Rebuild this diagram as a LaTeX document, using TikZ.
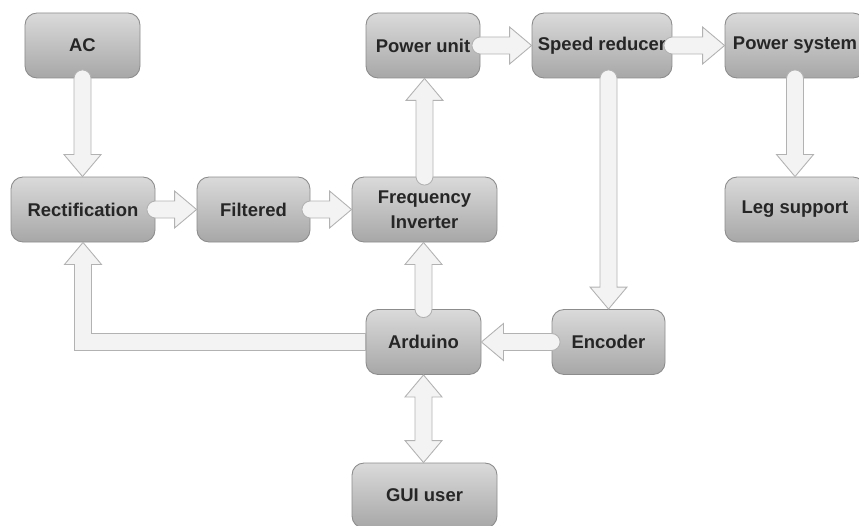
\documentclass[tikz,border=0pt]{standalone}
\usepackage{fontspec}
\setmainfont{Liberation Sans}
\usetikzlibrary{calc}

\definecolor{boxtop}{HTML}{DADADA}
\definecolor{boxmid}{HTML}{BCBCBC}
\definecolor{boxbottom}{HTML}{A7A7A7}
\definecolor{boxline}{HTML}{8C8C8C}
\definecolor{boxtext}{HTML}{262626}
\definecolor{arrowfill}{HTML}{F3F3F3}
\definecolor{arrowline}{HTML}{B2B2B2}

\tikzset{
  blockbox/.style={draw=boxline, line width=0.5pt, rounded corners=0.24cm,
    minimum width=2.3cm, minimum height=1.3cm, top color=boxtop,
    middle color=boxmid, bottom color=boxbottom, text=boxtext, align=center,
    font=\fontsize{10.5}{14}\selectfont\bfseries},
  flowarrow/.style={draw=arrowline, fill=arrowfill, line width=0.5pt, line join=miter},
}

% block arrow from #1 to #2, rounded tail
\newcommand{\blockarrow}[2]{%
  \coordinate (hb) at ($(#2)!0.44cm!(#1)$);
  \draw[flowarrow] let \p1=($(#2)-(#1)$), \n1={atan2(\y1,\x1)} in
    (#2) -- ($(hb)!0.37cm!90:(#2)$) -- ($(hb)!0.17cm!90:(#2)$)
    -- ($(#1)!0.17cm!90:(#2)$)
    arc[start angle=\n1+90, end angle=\n1+270, radius=0.17cm]
    -- ($(hb)!0.17cm!-90:(#2)$) -- ($(hb)!0.37cm!-90:(#2)$) -- cycle;%
}
% block arrow with heads on both ends
\newcommand{\twowayarrow}[2]{%
  \coordinate (hb) at ($(#2)!0.44cm!(#1)$);
  \coordinate (ht) at ($(#1)!0.44cm!(#2)$);
  \draw[flowarrow]
    (#2) -- ($(hb)!0.37cm!90:(#2)$) -- ($(hb)!0.17cm!90:(#2)$)
    -- ($(ht)!0.17cm!-90:(#1)$) -- ($(ht)!0.37cm!-90:(#1)$) -- (#1)
    -- ($(ht)!0.37cm!90:(#1)$) -- ($(ht)!0.17cm!90:(#1)$)
    -- ($(hb)!0.17cm!-90:(#2)$) -- ($(hb)!0.37cm!-90:(#2)$) -- cycle;%
}

\begin{document}
\begin{tikzpicture}
  \useasboundingbox (0,0) rectangle (17.18,10.5);
  \clip (0,0) rectangle (17.18,10.5);

  % top row
  \node[blockbox] (ac) at (1.65,9.59) {AC};
  \node[blockbox, minimum width=2.28cm] (powerunit) at (8.46,9.59) {Power unit};
  \node[blockbox, minimum width=2.6cm] (reducer) at (12.04,9.59) {Speed reducer};
  \node[blockbox, minimum width=2.8cm] (powersys) at (15.9,9.59) {Power system};

  % middle row
  \node[blockbox, minimum width=2.88cm] (rectif) at (1.66,6.31) {Rectification};
  \node[blockbox, minimum width=2.26cm] (filtered) at (5.07,6.31) {Filtered};
  \node[blockbox, minimum width=2.9cm] (inverter) at (8.49,6.31) {Frequency\\Inverter};
  \node[blockbox, minimum width=2.8cm] (leg) at (15.9,6.31) {Leg support};

  % control
  \node[blockbox] (arduino) at (8.47,3.66) {Arduino};
  \node[blockbox, minimum width=2.26cm] (encoder) at (12.17,3.66) {Encoder};
  \node[blockbox, minimum width=2.9cm] (gui) at (8.49,0.59) {GUI user};

  % power path
  \blockarrow{ac.south}{ac.south |- rectif.north}
  \blockarrow{rectif.east}{filtered.west}
  \blockarrow{filtered.east}{inverter.west}
  \blockarrow{inverter.north}{inverter.north |- powerunit.south}
  \blockarrow{powerunit.east}{reducer.west}
  \blockarrow{reducer.east}{powersys.west}
  \blockarrow{powersys.south}{powersys.south |- leg.north}

  % feedback
  \blockarrow{encoder.north |- reducer.south}{encoder.north}
  \blockarrow{encoder.west}{arduino.east}
  \blockarrow{arduino.north}{arduino.north |- inverter.south}
  \twowayarrow{arduino.south}{arduino.south |- gui.north}

  % arduino back to rectification
  \coordinate (elbow) at (rectif.south |- arduino.west);
  \coordinate (rhead) at ($(rectif.south)+(0,-0.44)$);
  \draw[flowarrow] ($(arduino.west)+(0,0.17)$) -- ($(elbow)+(0.17,0.17)$)
    -- ($(rhead)+(0.17,0)$) -- ($(rhead)+(0.37,0)$) -- (rectif.south)
    -- ($(rhead)+(-0.37,0)$) -- ($(rhead)+(-0.17,0)$)
    -- ($(elbow)+(-0.17,-0.17)$) -- ($(arduino.west)+(0,-0.17)$) -- cycle;
\end{tikzpicture}
\end{document}
